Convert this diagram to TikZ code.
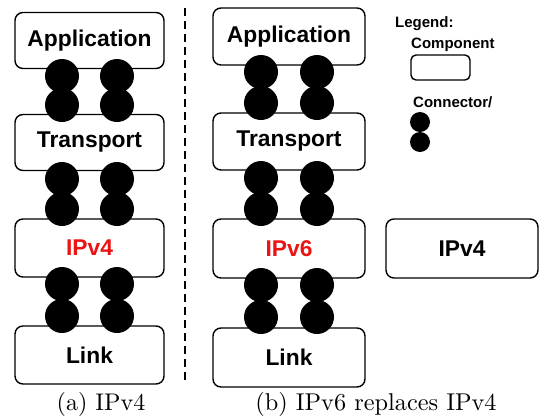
\documentclass[tikz,border=0pt]{standalone}
\usepackage{fontspec}
\usepackage{graphicx}
\setsansfont{Liberation Sans}
\definecolor{ipred}{RGB}{235,20,20}
\tikzset{
  layer/.style={draw=black, line width=1.4pt, rounded corners=8pt, fill=white,
    minimum width=#1, inner sep=0pt,
    font=\sffamily\bfseries\fontsize{22.8}{26}\selectfont},
  conn/.style={circle, fill=black, draw=none, minimum size=34pt, inner sep=0pt},
  smallconn/.style={circle, fill=black, draw=none, minimum size=20pt, inner sep=0pt},
  legtext/.style={anchor=base west, inner sep=0pt, font=\sffamily\bfseries\fontsize{15}{18}\selectfont},
  caption/.style={anchor=base, inner sep=0pt, font=\rmfamily\fontsize{10}{12}\selectfont},
  divider/.style={draw=black, line width=1.4pt, dash pattern=on 8pt off 5pt}
}
\begin{document}
\begin{tikzpicture}[x=1pt,y=-1pt]
\useasboundingbox (0,0) rectangle (544,416);
% left column boxes
\node[layer=149pt, minimum height=56pt] (la) at (89.5,40.5) {Application};
\node[layer=149pt, minimum height=56pt] (lt) at (89.5,142.5) {Transport};
\node[layer=149pt, minimum height=58pt, text=ipred] (li) at (89.5,248) {IPv4};
\node[layer=149pt, minimum height=58pt] (ll) at (89.5,355) {Link};
% right column boxes
\node[layer=152pt, minimum height=57pt] (ra) at (289,36.5) {Application};
\node[layer=152pt, minimum height=57pt] (rt) at (289,141.5) {Transport};
\node[layer=152pt, minimum height=59pt, text=ipred] (ri) at (289,248.5) {IPv6};
\node[layer=152pt, minimum height=59pt] (rl) at (289,357.5) {Link};
% replaced component
\node[layer=152pt, minimum height=59pt] (old) at (462,248.5) {IPv4};
% left connectors
\foreach \n/\x in {a/62,b/117}{
  \node[conn] (lc1\n) at (\x,76) {};
  \node[conn] (lc2\n) at (\x,105) {};
  \node[conn] (lc3\n) at (\x,179) {};
  \node[conn] (lc4\n) at (\x,209) {};
  \node[conn] (lc5\n) at (\x,284) {};
  \node[conn] (lc6\n) at (\x,316) {};
}
% right connectors
\foreach \n/\x in {a/261,b/317}{
  \node[conn] (rc1\n) at (\x,72) {};
  \node[conn] (rc2\n) at (\x,103) {};
  \node[conn] (rc3\n) at (\x,178) {};
  \node[conn] (rc4\n) at (\x,209) {};
  \node[conn] (rc5\n) at (\x,285) {};
  \node[conn] (rc6\n) at (\x,317) {};
}
% divider
\coordinate (dtop) at (185,8);
\coordinate (dbot) at (185,381);
\draw[divider] (dtop) -- (dbot);
% legend
\node[legtext] (lg) at (395,27) {Legend:};
\node[legtext] (lgc) at (411,48) {Component};
\node[draw=black, line width=1.4pt, rounded corners=5pt, minimum width=59pt, minimum height=25pt, inner sep=0pt] (lgbox) at (440.5,67.5) {};
\node[legtext] (lgn) at (413,107) {Connector/};
\node[smallconn] (lgc1) at (420,122) {};
\node[smallconn] (lgc2) at (420,142) {};
% captions
\node[caption] (capa) at (101,410) {\scalebox{2.41}{(a) IPv4}};
\node[caption] (capb) at (376,410) {\scalebox{2.43}{(b) IPv6 replaces IPv4}};
\end{tikzpicture}
\end{document}
